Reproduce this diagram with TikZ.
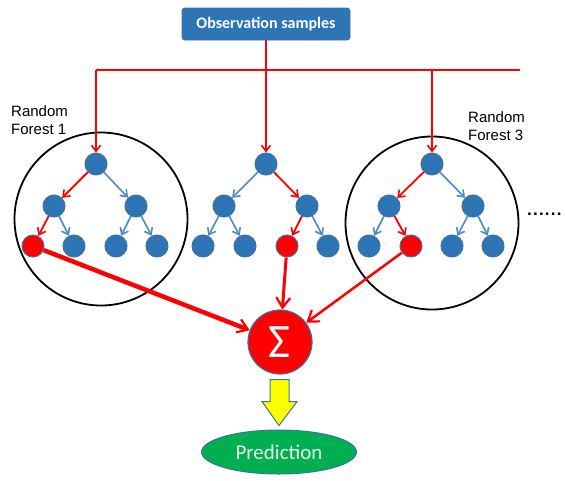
\documentclass[tikz,border=0pt]{standalone}
\usepackage{fontspec}
\setmainfont{Liberation Sans}
\newfontfamily\calibri{Carlito}
\usetikzlibrary{arrows.meta,shapes.geometric}
\definecolor{nodeblue}{RGB}{46,117,182}
\definecolor{nodeedge}{RGB}{65,113,156}
\definecolor{edgeblue}{RGB}{74,139,201}
\definecolor{boxblue}{RGB}{46,117,182}
\definecolor{predgreen}{RGB}{0,176,80}
\definecolor{predtext}{RGB}{235,245,235}
\definecolor{arrowyellow}{RGB}{255,255,0}
\begin{document}
\begin{tikzpicture}[x=1pt,y=-1pt,
  tnode/.style={circle,fill=nodeblue,draw=nodeedge,line width=1pt,minimum size=22pt,inner sep=0pt},
  rnode/.style={tnode,fill=red},
  barb/.style={-{Straight Barb[length=6pt,width=9pt,line width=1.6pt]}},
  redarr/.style={draw=red,line width=1.8pt,barb},
  bluearr/.style={draw=edgeblue,line width=1.6pt,barb},
  forestc/.style={circle,draw=black,line width=1.8pt,minimum size=173pt,inner sep=0pt},
  lbl/.style={font=\fontsize{15}{18}\selectfont,align=left,inner sep=0pt,anchor=north west},
  bigarr/.style={draw=red,-{Straight Barb[length=10pt,width=14pt,line width=2.2pt]}}]
\useasboundingbox (0,0) rectangle (565,480);

% forest circles
\node[forestc] (f1) at (101,219) {};
\node[forestc] (f3) at (432,223) {};

% labels
\node[lbl] (l1) at (11,105) {Random\\Forest 1};
\node[lbl] (l3) at (468,111) {Random\\Forest 3};
\node[font=\bfseries\fontsize{17}{17}\selectfont,anchor=base west,inner sep=0pt] (dots) at (527,215)
  {.\kern1.2pt.\kern1.2pt.\kern1.2pt.\kern1.2pt.\kern1.2pt.};

% top box
\node[rounded corners=3pt,fill=boxblue,draw=nodeedge,line width=0.8pt,minimum width=168pt,minimum height=32pt,
  text=white,font=\calibri\bfseries\fontsize{16}{16}\selectfont] (obs) at (266,24) {Observation samples};

% tree 1
\node[tnode] (a0) at (96,164) {};
\node[tnode] (a1) at (54,206) {};
\node[tnode] (a2) at (136,206) {};
\node[rnode] (a3) at (33,246) {};
\node[tnode] (a4) at (74,246) {};
\node[tnode] (a5) at (116,246) {};
\node[tnode] (a6) at (157,246) {};
% tree 2
\node[tnode] (b0) at (266,164) {};
\node[tnode] (b1) at (224,206) {};
\node[tnode] (b2) at (307,206) {};
\node[tnode] (b3) at (203,246) {};
\node[tnode] (b4) at (245,246) {};
\node[rnode] (b5) at (287,246) {};
\node[tnode] (b6) at (328,246) {};
% tree 3
\node[tnode] (c0) at (432,164) {};
\node[tnode] (c1) at (389,206) {};
\node[tnode] (c2) at (473,206) {};
\node[tnode] (c3) at (369,246) {};
\node[rnode] (c4) at (411,246) {};
\node[tnode] (c5) at (452,246) {};
\node[tnode] (c6) at (493,246) {};

% tree edges
\draw[redarr] (a0) -- (a1);
\draw[bluearr] (a0) -- (a2);
\draw[redarr] (a1) -- (a3);
\draw[bluearr] (a1) -- (a4);
\draw[bluearr] (a2) -- (a5);
\draw[bluearr] (a2) -- (a6);

\draw[bluearr] (b0) -- (b1);
\draw[redarr] (b0) -- (b2);
\draw[bluearr] (b1) -- (b3);
\draw[bluearr] (b1) -- (b4);
\draw[redarr] (b2) -- (b5);
\draw[bluearr] (b2) -- (b6);

\draw[redarr] (c0) -- (c1);
\draw[bluearr] (c0) -- (c2);
\draw[bluearr] (c1) -- (c3);
\draw[redarr] (c1) -- (c4);
\draw[bluearr] (c2) -- (c5);
\draw[bluearr] (c2) -- (c6);

% distribution lines
\coordinate (hl) at (96,70);
\coordinate (hc) at (432,70);
\coordinate (hr) at (520,70);
\draw[red,line width=1.8pt] (hl) -- (hr);
\draw[redarr] (obs.south) -- (b0.north);
\draw[redarr] (hl) -- (a0.north);
\draw[redarr] (hc) -- (c0.north);

% sum node
\node[circle,fill=red,draw=nodeedge,line width=1.2pt,minimum size=64pt,inner sep=0pt,
  text=white,font=\calibri\fontsize{48}{48}\selectfont] (sum) at (280,342) {Σ};

\draw[bigarr,line width=4.5pt] (a3) -- (sum);
\draw[bigarr,line width=3pt] (b5) -- (sum);
\draw[bigarr,line width=2.5pt] (c4) -- (sum);

% prediction
\node[ellipse,fill=predgreen,draw=nodeedge,line width=1pt,minimum width=155pt,minimum height=44pt,inner sep=0pt,
  text=predtext,font=\calibri\fontsize{21}{21}\selectfont] (pred) at (279,452) {Prediction};

% yellow arrow
\draw[fill=arrowyellow,draw=nodeedge,line width=1pt]
  ([xshift=-10pt,yshift=-5pt]sum.south) -- ([xshift=9pt,yshift=-5pt]sum.south)
  -- ([xshift=9pt,yshift=-27pt]sum.south) -- ([xshift=17pt,yshift=-27pt]sum.south)
  -- ([yshift=4pt]pred.north) -- ([xshift=-18pt,yshift=-27pt]sum.south)
  -- ([xshift=-10pt,yshift=-27pt]sum.south) -- cycle;
\end{tikzpicture}
\end{document}
